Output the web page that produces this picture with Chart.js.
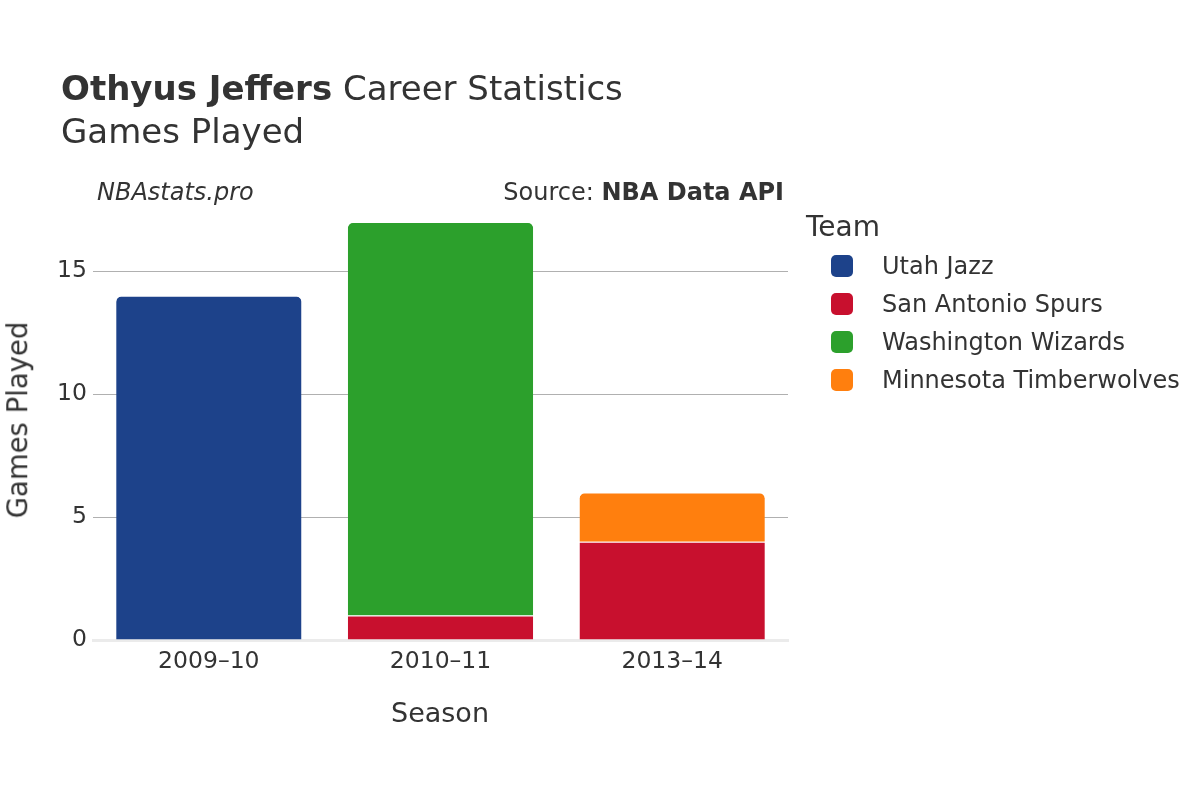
<!DOCTYPE html>
<html>
<head>
<meta charset="utf-8">
<script src="https://cdn.jsdelivr.net/npm/chart.js@4/dist/chart.umd.min.js"></script>
<style>
  body { margin: 0; background: #fff; font-family: "DejaVu Sans", sans-serif; color: #333; }
  #wrap { position: relative; width: 1200px; height: 800px; }
  #wrap canvas { position: absolute; left: 0; top: 0; }
  .txt { position: absolute; line-height: 1; white-space: nowrap; transform: translateY(-50%); }
  .sw { position: absolute; width: 22px; height: 22px; border-radius: 5px; transform: translateY(-50%); }
</style>
</head>
<body>
<div id="wrap">
  <canvas id="chart" width="1200" height="800"></canvas>
  <div class="txt" style="left:61px; top:88px; font-size:34px;"><b>Othyus Jeffers</b> Career Statistics</div>
  <div class="txt" style="left:61px; top:131px; font-size:34px;">Games Played</div>
  <div class="txt" style="left:97px; top:192px; font-size:24px; font-style:italic;">NBAstats.pro</div>
  <div class="txt" style="right:416px; top:192px; font-size:24px;">Source: <b>NBA Data API</b></div>
  <div class="txt" style="left:440px; top:712px; font-size:27px; transform: translate(-50%, -50%);">Season</div>
  <div class="txt" style="left:18px; top:420px; font-size:27.5px; transform: translate(-50%, -50%) rotate(-90deg);">Games Played</div>
  <div class="txt" style="left:806px; top:227px; font-size:28px;">Team</div>
  <div id="legend"></div>
</div>
<script>
// seasons on the x axis
const seasons = ['2009–10', '2010–11', '2013–14'];

// games played per team, one value per season
const teams = ['Utah Jazz', 'San Antonio Spurs', 'Washington Wizards', 'Minnesota Timberwolves'];
const utahJazz = [14, 0, 0];
const sanAntonioSpurs = [0, 1, 4];
const washingtonWizards = [0, 16, 0];
const minnesotaTimberwolves = [0, 0, 2];

const yTicks = [0, 5, 10, 15];

const teamColors = ['#1d428a', '#c8102e', '#2ca02c', '#ff7f0e'];
const allSeries = [utahJazz, sanAntonioSpurs, washingtonWizards, minnesotaTimberwolves];

// which dataset sits on top of each stack (gets rounded corners)
function topIndex(col) {
    let top = -1;
    allSeries.forEach((s, i) => { if (s[col] > 0) top = i; });
    return top;
}

const datasets = teams.map((name, i) => ({
    label: name,
    data: allSeries[i],
    backgroundColor: teamColors[i],
    borderColor: '#ffffff',
    borderWidth: { top: 1, left: 0, right: 0, bottom: 0 },
    borderSkipped: 'start',
    borderRadius: ctx => topIndex(ctx.dataIndex) === ctx.datasetIndex
        ? { topLeft: 6, topRight: 6, bottomLeft: 0, bottomRight: 0 }
        : 0,
    barPercentage: 0.8,
    categoryPercentage: 1.0
}));

// legend (html)
const legend = document.getElementById('legend');
teams.forEach((name, i) => {
    const y = 266 + i * 38;
    legend.innerHTML += '<div class="sw" style="left:831px; top:' + y + 'px; background:' + teamColors[i] + ';"></div>' +
        '<div class="txt" style="left:882px; top:' + y + 'px; font-size:24px;">' + name + '</div>';
});

new Chart(document.getElementById('chart'), {
    type: 'bar',
    data: { labels: seasons, datasets: datasets },
    options: {
        responsive: false,
        animation: false,
        layout: { padding: { left: 0, top: 200, right: 412, bottom: 0 } },
        plugins: { legend: { display: false }, tooltip: { enabled: false } },
        scales: {
            x: {
                stacked: true,
                grid: { display: false, drawTicks: false },
                border: { color: '#ebebeb', width: 3 },
                ticks: { color: '#333', font: { family: 'DejaVu Sans', size: 23.5 }, padding: 8 },
                afterFit: s => { s.height = 160; }
            },
            y: {
                stacked: true,
                min: 0,
                max: 17.9,
                grid: { color: '#b0b0b0', lineWidth: 1, drawTicks: false },
                border: { display: false },
                ticks: {
                    color: '#333',
                    font: { family: 'DejaVu Sans', size: 23.5 },
                    padding: 6,
                    stepSize: 5,
                    includeBounds: false
                },
                afterBuildTicks: s => { s.ticks = yTicks.map(v => ({ value: v })); },
                afterFit: s => { s.width = 93; }
            }
        }
    }
});
</script>
</body>
</html>
